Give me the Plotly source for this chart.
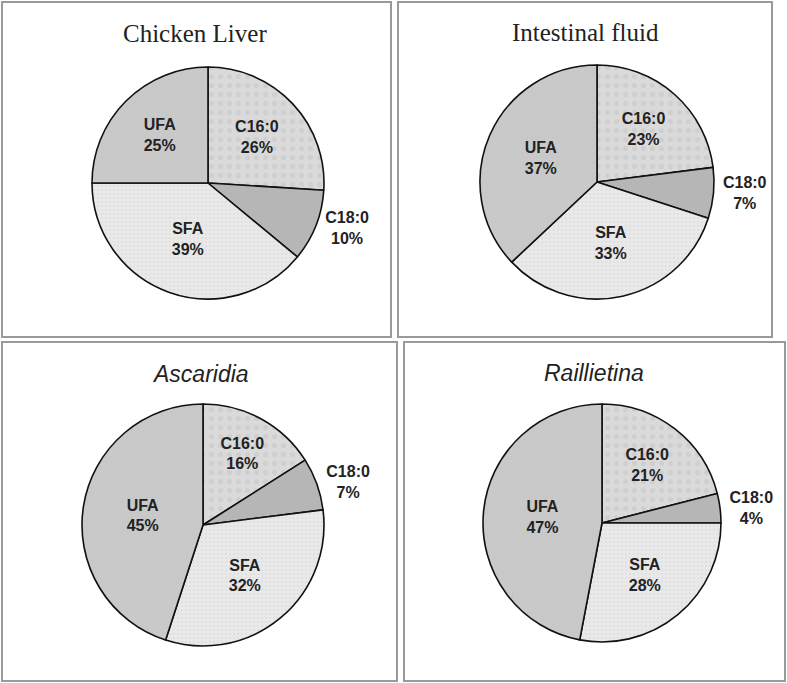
import plotly.graph_objects as go

W, H = 787, 683

# data
labels = ['C16:0', 'C18:0', 'SFA', 'UFA']
titles = ['Chicken Liver', 'Intestinal fluid', '<i>Ascaridia</i>', '<i>Raillietina</i>']
chicken_liver = [26, 10, 39, 25]
intestinal_fluid = [23, 7, 33, 37]
ascaridia = [16, 7, 32, 45]
raillietina = [21, 4, 28, 47]
series = [chicken_liver, intestinal_fluid, ascaridia, raillietina]

# layout in pixels: pie centre / radius, panel boxes, title positions
pies = [(208, 183, 116), (597, 182, 117), (203, 525, 121), (602, 523, 119)]
boxes = [(2, 2, 391, 337), (398, 2, 772, 337), (2, 342, 397, 681), (404, 342, 785, 681)]
title_pos = [(195, 33), (585, 32), (200, 374), (594, 373)]
title_fonts = [dict(family='Liberation Serif', size=25, color='#222'),
               dict(family='Liberation Serif', size=25, color='#222'),
               dict(family='Liberation Sans', size=23, color='#222'),
               dict(family='Liberation Sans', size=23, color='#222')]

colors = ['#dadada', '#b6b6b6', '#e9e9e9', '#c9c9c9']
pattern = dict(shape=['.', '', '.', '+'], fgcolor=['#c4c4c4', '#b6b6b6', '#d2d2d2', '#bcbcbc'],
               size=[9, 6, 4, 5], solidity=[0.25, 0.1, 0.2, 0.1], fillmode='overlay')

fig = go.Figure()

for vals, (cx, cy, r) in zip(series, pies):
    fig.add_trace(go.Pie(
        labels=labels,
        values=vals,
        sort=False,
        direction='clockwise',
        rotation=0,
        domain=dict(x=[(cx - r) / W, (cx + r) / W], y=[1 - (cy + r) / H, 1 - (cy - r) / H]),
        marker=dict(colors=colors, line=dict(color='#111', width=1.6), pattern=pattern),
        texttemplate='%{label}<br>%{value}%',
        textposition=['inside', 'outside', 'inside', 'inside'],
        insidetextorientation='horizontal',
        textfont=dict(family='Liberation Sans', size=16, color='#222', weight='bold'),
        showlegend=False,
        hoverinfo='label+value',
    ))

for (x0, y0, x1, y1) in boxes:
    fig.add_shape(type='rect', xref='paper', yref='paper',
                  x0=x0 / W, x1=x1 / W, y0=1 - y1 / H, y1=1 - y0 / H,
                  line=dict(color='#9a9a9a', width=2))

for t, (tx, ty), f in zip(titles, title_pos, title_fonts):
    fig.add_annotation(text=t, x=tx / W, y=1 - ty / H, xref='paper', yref='paper',
                       showarrow=False, font=f, xanchor='center', yanchor='middle')

fig.update_layout(
    width=W, height=H,
    margin=dict(l=0, r=0, t=0, b=0),
    paper_bgcolor='white',
    plot_bgcolor='white',
)

# drop the default page margin so the figure sits at the window's corner
fig.write_html('out.html', config={'displayModeBar': False},
               post_script="document.body.style.margin='0';")
